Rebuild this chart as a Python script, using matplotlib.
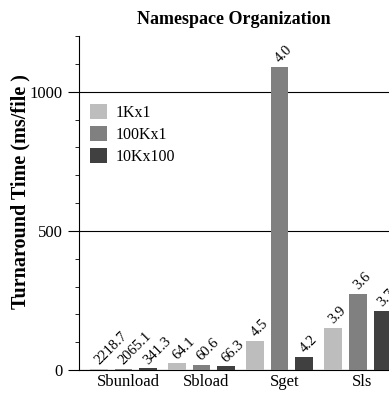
import matplotlib
matplotlib.use('Agg')
import matplotlib.pyplot as plt
from matplotlib.ticker import MultipleLocator
import numpy as np

plt.rcParams['font.family'] = ['Liberation Serif', 'DejaVu Serif']

ops = ['Sbunload', 'Sbload', 'Sget', 'Sls']
series = ['1Kx1', '100Kx1', '10Kx100']
colours = ['#bdbdbd', '#808080', '#404040']

# turnaround time (ms/file) per operation
t_1k = [3, 24, 105, 151]
t_100k = [3, 17, 1090, 274]
t_10k = [6, 13, 46, 213]

# numbers printed above each bar
lab_1k = ['2218.7', '64.1', '4.5', '3.9']
lab_100k = ['2065.1', '60.6', '4.0', '3.6']
lab_10k = ['341.3', '66.3', '4.2', '3.7']

fig = plt.figure(figsize=(3.89, 4.0), dpi=100)
ax = fig.add_axes([0.203, 0.075, 0.797, 0.835])

x = np.arange(len(ops))
step = 0.314
width = 0.224
for i, (vals, labs) in enumerate(zip([t_1k, t_100k, t_10k], [lab_1k, lab_100k, lab_10k])):
    pos = x + (i - 1) * step
    ax.bar(pos, vals, width, color=colours[i], label=series[i], zorder=3)
    for p, v, l in zip(pos, vals, labs):
        ax.text(p + 0.03, v + 6, l, rotation=45, rotation_mode='anchor',
                ha='left', va='bottom', fontsize=10.5, zorder=4)

ax.set_xlim(-0.57, 3.40)
ax.set_ylim(0, 1200)
ax.set_xticks(x + 0.06)
ax.set_xticklabels(ops, fontsize=12)
ax.tick_params(axis='x', length=0, pad=3)
ax.yaxis.set_major_locator(MultipleLocator(500))
ax.yaxis.set_minor_locator(MultipleLocator(100))
ax.tick_params(axis='y', which='major', length=8, labelsize=12, direction='out')
ax.tick_params(axis='y', which='minor', length=3, direction='out')
ax.yaxis.grid(True, which='major', color='black', linewidth=0.8, zorder=1)

for s in ['top', 'right']:
    ax.spines[s].set_visible(False)

ax.set_ylabel('Turnaround Time (ms/file )', fontsize=14.5, fontweight='bold')
ax.yaxis.set_label_coords(-0.155, 0.533)
ax.set_title('Namespace Organization', fontsize=13, fontweight='bold', pad=9)

ax.legend(loc='upper left', bbox_to_anchor=(-0.012, 0.84), frameon=False, fontsize=11.5,
          handlelength=1.1, handleheight=1.1, handletextpad=0.5, labelspacing=0.3)

plt.savefig('out.png', dpi=100)
